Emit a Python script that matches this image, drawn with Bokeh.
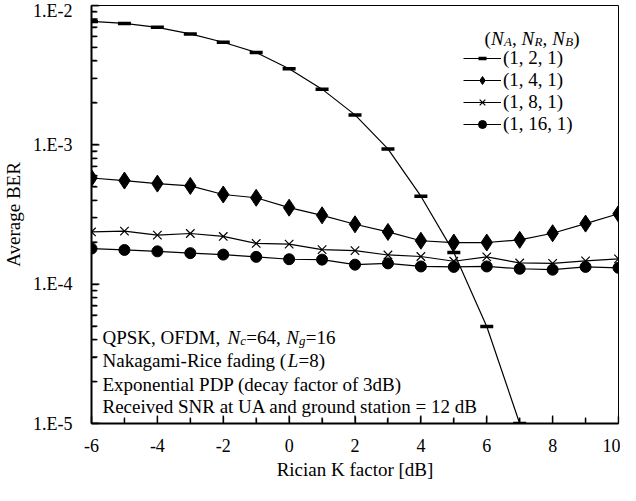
import numpy as np
from bokeh.plotting import figure
from bokeh.models import FixedTicker, Label, Legend, LegendItem, CustomJSTickFormatter
from bokeh.embed import file_html
from bokeh.resources import INLINE

# ---------------- data ----------------
k_factor = [-6, -5, -4, -3, -2, -1, 0, 1, 2, 3, 4, 5, 6, 7, 8, 9, 10]
k_factor_1_2_1 = [-6, -5, -4, -3, -2, -1, 0, 1, 2, 3, 4, 5, 6, 7]
ber_1_2_1 = [7.69e-3, 7.44e-3, 6.97e-3, 6.25e-3, 5.45e-3, 4.60e-3, 3.52e-3,
             2.51e-3, 1.64e-3, 9.35e-4, 4.28e-4, 1.69e-4, 4.97e-5, 1.0e-5]
ber_1_4_1 = [5.78e-4, 5.54e-4, 5.27e-4, 5.07e-4, 4.40e-4, 4.17e-4, 3.54e-4,
             3.12e-4, 2.69e-4, 2.37e-4, 2.05e-4, 1.99e-4, 1.99e-4, 2.08e-4,
             2.32e-4, 2.72e-4, 3.20e-4]
ber_1_8_1 = [2.37e-4, 2.40e-4, 2.25e-4, 2.31e-4, 2.20e-4, 1.96e-4, 1.94e-4,
             1.77e-4, 1.74e-4, 1.62e-4, 1.58e-4, 1.46e-4, 1.57e-4, 1.42e-4,
             1.41e-4, 1.47e-4, 1.52e-4]
ber_1_16_1 = [1.80e-4, 1.76e-4, 1.72e-4, 1.67e-4, 1.63e-4, 1.57e-4, 1.51e-4,
              1.50e-4, 1.38e-4, 1.41e-4, 1.34e-4, 1.33e-4, 1.34e-4, 1.29e-4,
              1.27e-4, 1.33e-4, 1.31e-4]
series_labels = ["(1, 2, 1)", "(1, 4, 1)", "(1, 8, 1)", "(1, 16, 1)"]
x_major_ticks = [-6, -4, -2, 0, 2, 4, 6, 8, 10]
x_minor_ticks = [-5, -3, -1, 1, 3, 5, 7, 9]
y_major_ticks = [1e-5, 1e-4, 1e-3, 1e-2]
y_minor_ticks = [m * d for d in [1e-5, 1e-4, 1e-3] for m in range(2, 10)]

FONT = "Liberation Serif"
X0, X1 = -6, 10
Y0, Y1 = 1e-5, 1e-2
FRAME_W, FRAME_H = 531, 418

p = figure(width=620, height=485, output_backend="svg",
           toolbar_location=None, y_axis_type="log",
           x_range=(X0, X1), y_range=(Y0, Y1),
           min_border_left=87, min_border_top=5, min_border_right=2,
           min_border_bottom=62)
p.xgrid.visible = False
p.ygrid.visible = False
p.outline_line_color = "black"
p.outline_line_width = 1
p.background_fill_color = "white"
p.border_fill_color = "white"

p.xaxis.ticker = FixedTicker(ticks=x_major_ticks, minor_ticks=x_minor_ticks)
p.yaxis.ticker = FixedTicker(ticks=y_major_ticks, minor_ticks=y_minor_ticks)
p.yaxis.formatter = CustomJSTickFormatter(code='return "1.E" + Math.round(Math.log10(tick));')
p.xaxis.formatter = CustomJSTickFormatter(code='return tick.toString();')
for ax in (p.xaxis[0], p.yaxis[0]):
    ax.axis_line_width = 2
    ax.axis_line_color = "black"
    ax.major_tick_in = 7
    ax.major_tick_out = 0
    ax.minor_tick_in = 5
    ax.minor_tick_out = 0
    ax.major_tick_line_width = 1.3
    ax.minor_tick_line_width = 1.3
    ax.major_tick_line_color = "black"
    ax.minor_tick_line_color = "black"
    ax.major_label_text_font = FONT
    ax.major_label_text_font_size = "18px"
    ax.major_label_text_color = "black"
    ax.axis_label_text_font = FONT
    ax.axis_label_text_font_size = "19px"
    ax.axis_label_text_font_style = "normal"
    ax.axis_label_text_color = "black"
p.xaxis.axis_label = "Rician K factor [dB]"
p.yaxis.axis_label = "Average BER"
p.xaxis.major_label_standoff = 15
p.yaxis.major_label_standoff = 19
p.xaxis.axis_label_standoff = 4
p.yaxis.axis_label_standoff = 6

# inward tick marks also drawn as dash markers inside the frame (touching the axis line)
px_x = (X1 - X0) / FRAME_W
dec_px = FRAME_H / (np.log10(Y1) - np.log10(Y0))
MAJ, MIN = 7, 5
x_tick_pos = x_major_ticks + x_minor_ticks
x_tick_len = [MAJ] * len(x_major_ticks) + [MIN] * len(x_minor_ticks)
p.scatter(x=x_tick_pos, y=[Y0 * 10 ** ((L / 2 + 1) / dec_px) for L in x_tick_len],
          marker="dash", angle=np.pi / 2, size=x_tick_len,
          line_color="black", line_width=1.3)
y_tick_pos = y_major_ticks + y_minor_ticks
y_tick_len = [MAJ] * len(y_major_ticks) + [MIN] * len(y_minor_ticks)
p.scatter(x=[X0 + (L / 2 + 1) * px_x for L in y_tick_len], y=y_tick_pos,
          marker="dash", size=y_tick_len, line_color="black", line_width=1.3)

# series
lw = 1.2
r1l = p.line(k_factor_1_2_1, ber_1_2_1, line_color="black", line_width=lw)
r1s = p.scatter(k_factor_1_2_1, ber_1_2_1, marker="dash", size=13, line_width=3.5, line_color="black")
r2l = p.line(k_factor, ber_1_4_1, line_color="black", line_width=lw)
r2s = p.scatter(k_factor, ber_1_4_1, marker="diamond", size=17, fill_color="black", line_color="black")
r3l = p.line(k_factor, ber_1_8_1, line_color="black", line_width=lw)
r3s = p.scatter(k_factor, ber_1_8_1, marker="x", size=12, line_color="black", line_width=1.2)
r4l = p.line(k_factor, ber_1_16_1, line_color="black", line_width=lw)
r4s = p.scatter(k_factor, ber_1_16_1, marker="circle", size=11, fill_color="black", line_color="black")

legend = Legend(items=[
    LegendItem(label=series_labels[0], renderers=[r1l, r1s]),
    LegendItem(label=series_labels[1], renderers=[r2l, r2s]),
    LegendItem(label=series_labels[2], renderers=[r3l, r3s]),
    LegendItem(label=series_labels[3], renderers=[r4l, r4s]),
], location=(372, 288))
legend.padding = 0
legend.margin = 0
legend.spacing = -2
legend.border_line_alpha = 0
legend.background_fill_alpha = 0
legend.glyph_width = 38
legend.glyph_height = 20
legend.label_height = 20
legend.label_standoff = 2
legend.label_text_font = FONT
legend.label_text_font_size = "19px"
legend.label_text_color = "black"
p.add_layout(legend)

# ---------------- rich text helpers ----------------
TR = {' ': 250, '(': 333, ')': 333, ',': 250, '-': 333, '.': 250, '=': 564,
      '[': 333, ']': 333, 'A': 722, 'B': 667, 'C': 667, 'D': 722, 'E': 611,
      'F': 556, 'K': 722, 'L': 611, 'M': 889, 'N': 722, 'O': 722, 'P': 556,
      'Q': 722, 'R': 667, 'S': 556, 'U': 722, 'a': 444, 'b': 500, 'c': 444,
      'd': 500, 'e': 444, 'f': 333, 'g': 500, 'h': 500, 'i': 278, 'k': 500,
      'l': 278, 'm': 778, 'n': 500, 'o': 500, 'p': 500, 'r': 333, 's': 389,
      't': 278, 'u': 500, 'v': 500, 'x': 500, 'y': 500}
TI = {'N': 667, 'L': 556, 'A': 611, 'R': 611, 'B': 611, 'c': 444, 'g': 500}


def tw(s, size, italic):
    table = TI if italic else TR
    return sum(table.get(ch, 500) for ch in s) * size / 1000.0


def rich_line(pieces, x0, y0, size):
    x = x0
    for txt, italic, sub, kern in pieces:
        fs = size * 0.68 if sub else size
        dy = -3.5 if sub else 0
        x += kern
        p.add_layout(Label(x=x, y=y0 + dy, x_units="screen", y_units="screen",
                           text=txt, text_font=FONT, text_font_size=f"{fs:.1f}px",
                           text_font_style="italic" if italic else "normal",
                           text_baseline="alphabetic", text_align="left",
                           text_color="black"))
        x += tw(txt, fs, italic) * 1.02


FS = 19
rich_line([("(", False, False, 0), ("N", True, False, 0), ("A", True, True, 0),
           (", ", False, False, 0), ("N", True, False, 0), ("R", True, True, 0),
           (", ", False, False, 0), ("N", True, False, 0), ("B", True, True, 0),
           (")", False, False, 0)], 393, 385, FS)

rich_line([("QPSK, OFDM, ", False, False, 0), ("N", True, False, 0), ("c", True, True, 0),
           ("=64, ", False, False, 0), ("N", True, False, 0), ("g", True, True, 0),
           ("=16", False, False, 0)], 11, 86, FS)
rich_line([("Nakagami-Rice fading (", False, False, 0), ("L", True, False, -2),
           ("=8)", False, False, 0)], 11, 63, FS)
rich_line([("Exponential PDP (decay factor of 3dB)", False, False, 0)], 11, 39.5, FS)
rich_line([("Received SNR at UA and ground station = 12 dB", False, False, 0)], 11, 17.3, FS)

open("out.html", "w").write(file_html(p, INLINE))
